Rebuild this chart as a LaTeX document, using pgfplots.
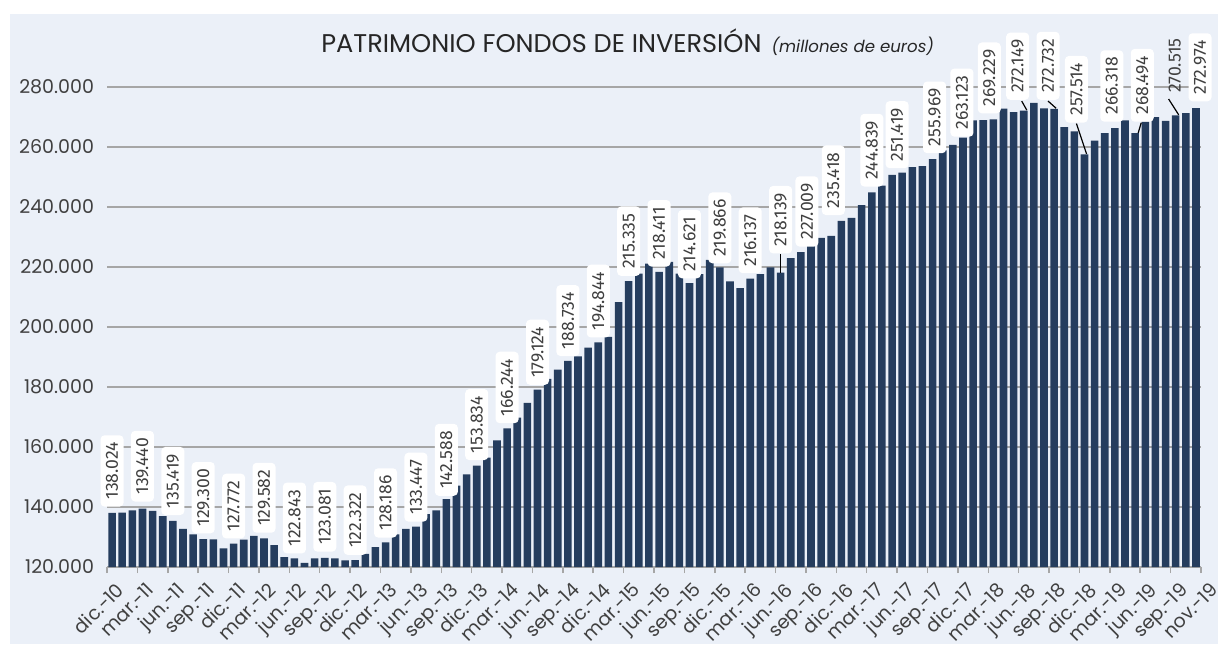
\documentclass[border=0pt]{standalone}
\usepackage{fontspec}
\setmainfont{Poppins}
\newfontfamily\lblfam{Fira Sans}
\usepackage{pgfplots}
\pgfplotsset{compat=1.18}
\usepackage{pgfplotstable}
\definecolor{bgc}{RGB}{235,240,248}
\definecolor{barc}{RGB}{37,61,94}
\definecolor{gridc}{RGB}{166,166,166}
\definecolor{txtc}{RGB}{64,64,64}
\newcommand{\lblfont}{\lblfam\fontsize{8.8}{8.8}\selectfont}

\pgfplotstableread{
x y
0 138024
1 138100
2 138900
3 139440
4 138700
5 137000
6 135419
7 132700
8 130900
9 129300
10 129200
11 126200
12 127772
13 129100
14 130400
15 129582
16 127300
17 123300
18 122843
19 121400
20 122900
21 123081
22 122900
23 122200
24 122322
25 124400
26 126600
27 128186
28 130900
29 132700
30 133447
31 137600
32 138900
33 142588
34 147100
35 150900
36 153834
37 156500
38 162200
39 166244
40 169800
41 174700
42 179124
43 182700
44 185800
45 188734
46 190200
47 193100
48 194844
49 196700
50 208300
51 215335
52 217800
53 221100
54 218411
55 221700
56 217800
57 214621
58 217600
59 222400
60 219866
61 215200
62 213000
63 216137
64 217600
65 219900
66 218139
67 223000
68 225000
69 227009
70 229700
71 230400
72 235418
73 236400
74 240600
75 244839
76 247100
77 250700
78 251419
79 253300
80 253600
81 255969
82 258900
83 260700
84 263123
85 268900
86 269000
87 269229
88 272800
89 271600
90 272149
91 274700
92 272900
93 272732
94 266600
95 265200
96 257514
97 262100
98 264600
99 266318
100 268900
101 264600
102 268494
103 270000
104 268700
105 270515
106 271300
107 272974
}\patdata

\pgfplotstableread{
x y lbl
0 140000 138.024
3 141700 139.440
6 137200 135.419
9 131100 129.300
12 129400 127.772
15 131300 129.582
18 124400 122.843
21 125000 123.081
24 123900 122.322
27 129700 128.186
30 135000 133.447
33 143600 142.588
36 155500 153.834
39 167800 166.244
42 180600 179.124
45 190200 188.734
48 196400 194.844
51 216900 215.335
54 220000 218.411
57 216100 214.621
60 221100 219.866
63 217800 216.137
66 224400 218.139
68.6 226700 227.009
71.2 237200 235.418
75 246700 244.839
77.5 252800 251.419
81.2 257800 255.969
83.9 263300 263.123
86.6 271100 269.229
89.4 275600 272.149
92.4 275600 272.732
95.2 268000 257.514
98.7 268300 266.318
101.7 268300 268.494
107.4 275100 272.974
}\lbldata

\pgfplotstableread{
x y lbl
104.9 275600 270.515
}\lblnobox

\begin{document}
\begin{tikzpicture}
\useasboundingbox (0,0) rectangle (612pt,325pt);
\fill[bgc] (5pt,3pt) rectangle (609pt,318pt);
\node[anchor=base west, inner sep=0pt, text=black!85] at (160.5pt,299pt)
  {\fontsize{12.8}{12.8}\selectfont PATRIMONIO FONDOS DE INVERSIÓN\hspace{5pt}{\fontsize{8.3}{8.3}\selectfont\itshape (millones de euros)}};
\begin{axis}[
  at={(53.5pt,41.5pt)}, anchor=south west,
  width=547pt, height=255pt, scale only axis,
  xmin=-0.5, xmax=107.5, ymin=0, ymax=170000,
  clip=false,
  scaled y ticks=false,
  y filter/.expression={y-120000},
  axis line style={draw=none},
  ymajorgrids, major grid style={draw=gridc, line width=0.75pt},
  ytick={0,20000,40000,60000,80000,100000,120000,140000,160000},
  yticklabels={120.000,140.000,160.000,180.000,200.000,220.000,240.000,260.000,280.000},
  ytick style={draw=none},
  xtick={-0.5,2.5,...,104.5,107.5},
  xticklabels={dic.-10,mar.-11,jun.-11,sep.-11,dic.-11,mar.-12,jun.-12,sep.-12,dic.-12,mar.-13,jun.-13,sep.-13,dic.-13,mar.-14,jun.-14,sep.-14,dic.-14,mar.-15,jun.-15,sep.-15,dic.-15,mar.-16,jun.-16,sep.-16,dic.-16,mar.-17,jun.-17,sep.-17,dic.-17,mar.-18,jun.-18,sep.-18,dic.-18,mar.-19,jun.-19,sep.-19,nov.-19},
  xtick style={draw=gridc, line width=0.75pt},
  tick align=outside, major tick length=3pt,
  xtick pos=bottom, ytick pos=left,
  yticklabel style={font=\fontsize{9.5}{9.5}\selectfont, text=txtc},
  xticklabel style={font=\fontsize{9.5}{9.5}\selectfont, text=txtc, xshift=4pt, yshift=-2.5pt, rotate=45, anchor=north east, inner sep=1pt},
]
\addplot[ybar, bar width=0.75, fill=barc, draw=none] table[x=x,y=y]{\patdata};
\addplot[black, line width=0.6pt] coordinates {(66,224400) (66,218139)};
\addplot[black, line width=0.6pt] coordinates {(89.8,275300) (90.3,272300)};
\addplot[black, line width=0.6pt] coordinates {(92.4,275300) (93.2,272900)};
\addplot[black, line width=0.6pt] coordinates {(95.2,267800) (96.2,257700)};
\addplot[black, line width=0.6pt] coordinates {(101.6,268100) (101.3,264700)};
\addplot[black, line width=0.6pt] coordinates {(104.3,276000) (105.3,270700)};
\addplot[draw=none, mark=none, nodes near coords, point meta=explicit symbolic,
  every node near coord/.append style={rotate=90, anchor=west, fill=white, rounded corners=2pt,
    inner xsep=3.5pt, inner ysep=0pt, minimum height=11.5pt, text=txtc, font=\lblfont}]
  table[x=x,y=y,meta=lbl]{\lbldata};
\addplot[draw=none, mark=none, nodes near coords, point meta=explicit symbolic,
  every node near coord/.append style={rotate=90, anchor=west,
    inner xsep=3.5pt, inner ysep=0pt, minimum height=11.5pt, text=txtc, font=\lblfont}]
  table[x=x,y=y,meta=lbl]{\lblnobox};
\end{axis}
\end{tikzpicture}
\end{document}
